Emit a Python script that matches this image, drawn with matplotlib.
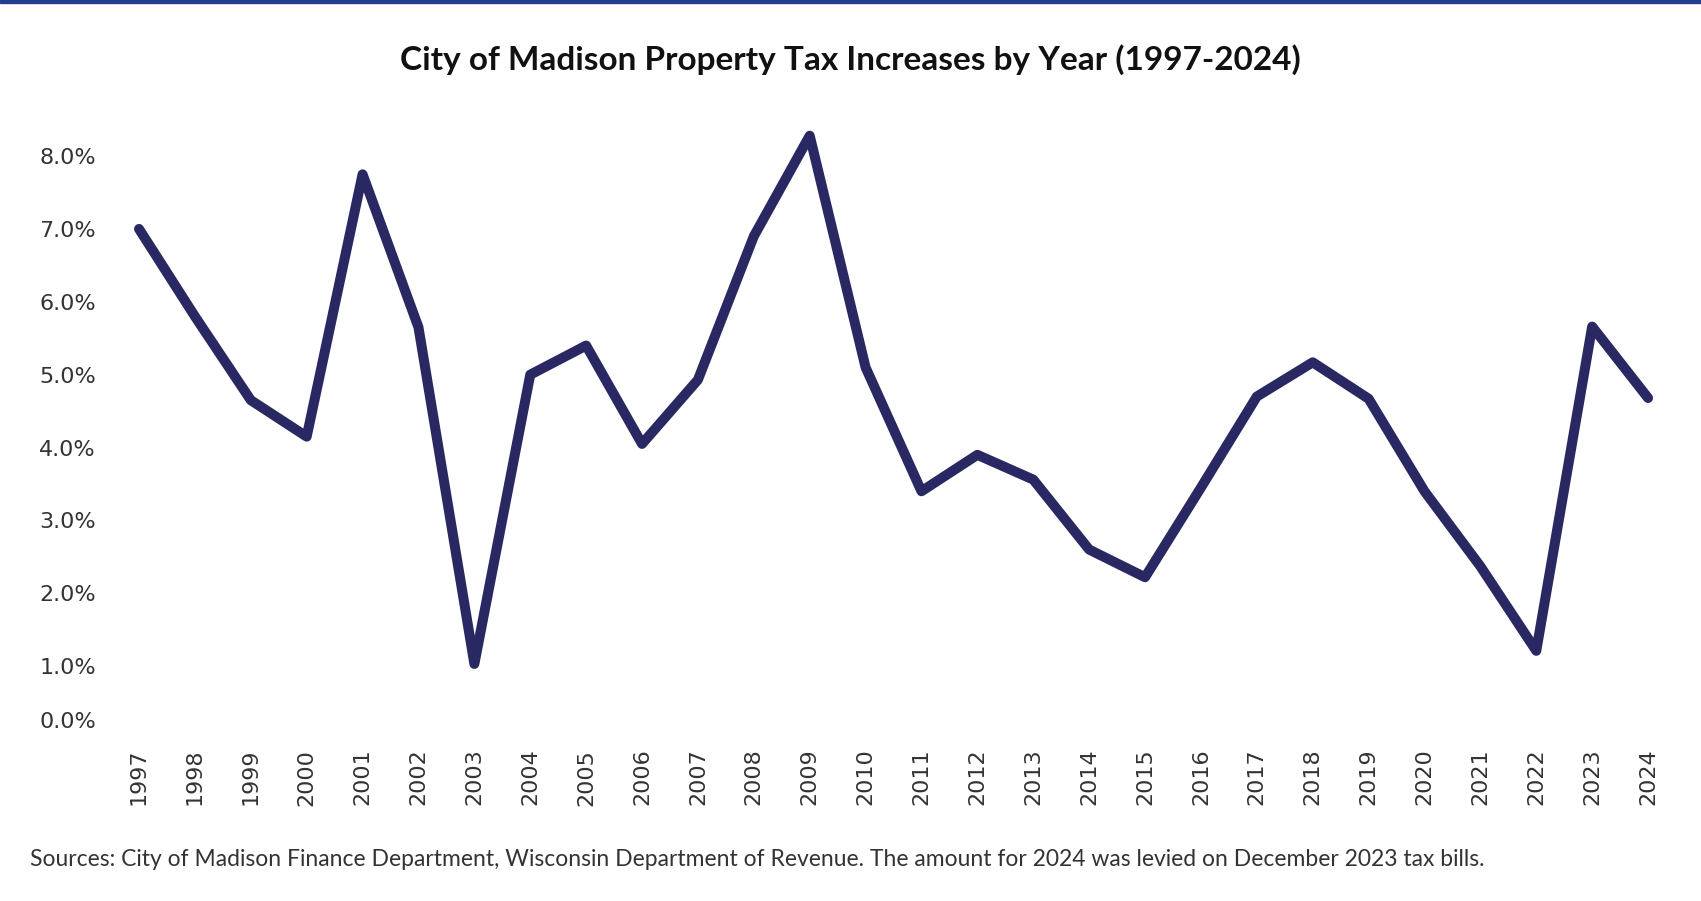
import matplotlib
matplotlib.use('Agg')
import matplotlib.pyplot as plt
from matplotlib.patches import Rectangle
from matplotlib.ticker import FuncFormatter
import matplotlib.transforms as mtransforms

years = [str(y) for y in range(1997, 2025)]
increase = [7.0, 5.8, 4.65, 4.15, 7.75, 5.65, 1.03, 5.0, 5.4, 4.05,
            4.93, 6.9, 8.28, 5.1, 3.4, 3.9, 3.56, 2.6, 2.22, 3.45,
            4.7, 5.17, 4.67, 3.4, 2.37, 1.21, 5.66, 4.68]
y_ticks = [0, 1, 2, 3, 4, 5, 6, 7, 8]

title = 'City of Madison Property Tax Increases by Year (1997-2024)'
source = ('Sources: City of Madison Finance Department, Wisconsin Department of Revenue. '
          'The amount for 2024 was levied on December 2023 tax bills.')

line_color = '#2a2862'
text_color = '#333333'

fig = plt.figure(figsize=(17.01, 9.01), dpi=100)
ax = fig.add_axes([0.0653, 0.1798, 0.92, 0.6793])

x = list(range(len(years)))
ax.plot(x, increase, color=line_color, linewidth=7.2,
        solid_capstyle='round', solid_joinstyle='round')

ax.set_xlim(-0.5, len(years) - 0.5)
ax.set_ylim(0, 8.4)
ax.set_xticks(x)
ax.set_xticklabels(years, rotation=90)
ax.set_yticks(y_ticks)
ax.yaxis.set_major_formatter(FuncFormatter(lambda v, p: '{:.1f}%'.format(v)))
ax.tick_params(axis='both', length=0, labelsize=16, colors=text_color)
ax.tick_params(axis='y', pad=11)
ax.tick_params(axis='x', pad=7)
for s in ax.spines.values():
    s.set_visible(False)

# bottom label sits inside the axis like the source
fig.canvas.draw()
lab0 = ax.get_yticklabels()[0]
lab0.set_va('bottom')
lab0.set_transform(lab0.get_transform() +
                   mtransforms.ScaledTranslation(0, 7 / 100, fig.dpi_scale_trans))

fig.text(0.4997, 1 - 60 / 901, title, ha='center', va='center',
         fontsize=24, fontweight='bold', family='Lato', color='#111111')
fig.text(30 / 1701, 1 - 859 / 901, source, ha='left', va='center',
         fontsize=16.5, family='Lato', color=text_color)

fig.patches.append(Rectangle((0, 1 - 2.5 / 901), 1, 2.5 / 901,
                             transform=fig.transFigure, color='#22408f', zorder=5))

fig.savefig('out.png', dpi=100)
